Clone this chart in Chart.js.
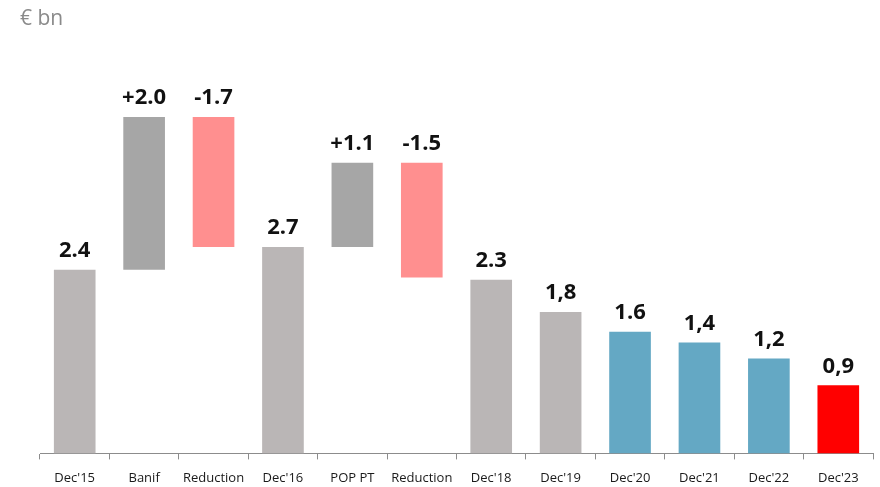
<!DOCTYPE html>
<html>
<head>
<meta charset="utf-8">
<script src="https://cdn.jsdelivr.net/npm/chart.js@4/dist/chart.umd.min.js"></script>
<style>
  html, body { margin: 0; padding: 0; background: #fff; }
  #wrap { width: 880px; height: 487px; position: relative; }
</style>
</head>
<body>
<div id="wrap"><canvas id="waterfall"></canvas></div>
<script>
// Categories and bar ranges (floating bars: [low, high])
const categories = ["Dec'15", 'Banif', 'Reduction', "Dec'16", 'POP PT', 'Reduction', "Dec'18", "Dec'19", "Dec'20", "Dec'21", "Dec'22", "Dec'23"];
const barLow  = [0, 2.4, 2.7, 0, 2.7, 2.3, 0, 0, 0, 0, 0, 0];
const barHigh = [2.4, 4.4, 4.4, 2.7, 3.8, 3.8, 2.27, 1.85, 1.59, 1.45, 1.24, 0.89];
const valueLabels = ['2.4', '+2.0', '-1.7', '2.7', '+1.1', '-1.5', '2.3', '1,8', '1.6', '1,4', '1,2', '0,9'];
const barColors = ['#bab6b6', '#a6a6a6', '#ff8f8f', '#bab6b6', '#a6a6a6', '#ff8f8f', '#bab6b6', '#bab6b6', '#64a8c4', '#64a8c4', '#64a8c4', '#ff0000'];

// value labels on top of each bar, category labels under the axis, unit caption
const topLabels = {
    id: 'topLabels',
    afterDatasetsDraw(chart) {
        const ctx = chart.ctx;
        const meta = chart.getDatasetMeta(0);
        const xScale = chart.scales.x;
        ctx.save();
        ctx.font = 'bold 22px "Open Sans", sans-serif';
        ctx.fillStyle = '#111';
        ctx.textAlign = 'center';
        ctx.textBaseline = 'bottom';
        meta.data.forEach((bar, i) => {
            ctx.fillText(valueLabels[i], bar.x, bar.y - 8);
        });
        ctx.font = '13px "Open Sans", sans-serif';
        ctx.fillStyle = '#1a1a1a';
        ctx.textBaseline = 'middle';
        categories.forEach((c, i) => {
            ctx.fillText(c, xScale.getPixelForValue(i), 478);
        });
        ctx.font = '21px "Open Sans", sans-serif';
        ctx.fillStyle = '#8a8a8a';
        ctx.textAlign = 'left';
        ctx.fillText('€ bn', 20, 19);
        ctx.restore();
    }
};

new Chart(document.getElementById('waterfall'), {
    type: 'bar',
    data: {
        labels: categories,
        datasets: [{
            data: barLow.map((lo, i) => [lo, barHigh[i]]),
            backgroundColor: barColors,
            borderWidth: 0,
            borderSkipped: false,
            categoryPercentage: 1,
            barPercentage: 0.6
        }]
    },
    options: {
        responsive: true,
        maintainAspectRatio: false,
        animation: false,
        layout: { padding: { left: 40, right: 7, top: 71, bottom: 0 } },
        plugins: {
            legend: { display: false },
            tooltip: { enabled: false }
        },
        scales: {
            x: {
                offset: true,
                grid: {
                    offset: true,
                    drawOnChartArea: false,
                    drawTicks: true,
                    tickLength: 6,
                    color: '#8c8c8c'
                },
                border: { color: '#8c8c8c', width: 1 },
                ticks: {
                    color: 'rgba(0,0,0,0)', // drawn by the plugin, a bit lower
                    padding: 6,
                    maxRotation: 0,
                    autoSkip: false,
                    font: { size: 13, family: '"Open Sans", sans-serif' }
                }
            },
            y: {
                display: false,
                min: 0,
                max: 5
            }
        }
    },
    plugins: [topLabels]
});
</script>
</body>
</html>
